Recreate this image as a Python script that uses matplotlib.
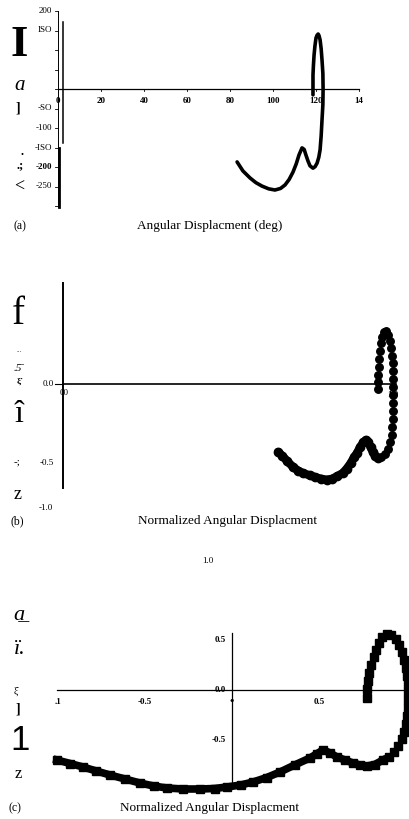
import matplotlib
matplotlib.use("Agg")
import matplotlib.pyplot as plt

# ---- panel (a): angular velocity vs angular displacement (deg)
ang_a = [83.3, 86, 89.3, 92, 94.9, 98, 100.9, 103.5, 105.6, 107.5, 109.3, 110.8,
         112.1, 113.5, 114.5, 115.3, 116.3, 117.2, 118.6, 119.6, 120.5, 121.3,
         121.9, 122.4, 122.8, 123.2, 123.3, 123.2, 122.8, 122.4, 121.9, 121.4,
         121.0, 120.5, 120.0, 119.5, 119.1, 118.8, 118.6, 118.6]
vel_a = [-187, -210, -228, -240, -249, -256, -259, -255, -246, -232, -213, -192,
         -169, -151, -155, -169, -185, -197, -203, -199, -190, -175,
         -156, -120, -79, -40, 0, 40, 74, 103, 126, 137,
         141, 138, 131, 110, 87, 60, 36, -15]
xticks_a = [0, 20, 40, 60, 80, 100, 120, 140]
xlabels_a = ["0", "20", "40", "60", "80", "100", "120", "14"]
yticks_a = [200, 150, -50, -100, -150, -200, -250]
ylabels_a = ["200", "ISO", "-SO", "-100", "-ISO", "-200", "-250"]

# ---- panel (b): normalized, dots
xb_lo = [0.652, 0.665, 0.68, 0.697, 0.712, 0.728, 0.748, 0.765, 0.782, 0.80, 0.815,
         0.83, 0.848, 0.86, 0.872, 0.883, 0.891, 0.90, 0.91, 0.918, 0.925, 0.932,
         0.939, 0.946, 0.955]
yb_lo = [-0.43, -0.455, -0.49, -0.525, -0.548, -0.565, -0.578, -0.59, -0.60, -0.606,
         -0.60, -0.585, -0.563, -0.535, -0.50, -0.46, -0.437, -0.40, -0.37, -0.354,
         -0.37, -0.40, -0.43, -0.455, -0.468]
xb_hi = [0.965, 0.975, 0.985, 0.992, 0.996, 0.998, 0.999, 1.0, 1.0, 1.0, 1.0, 1.0,
         1.0, 0.999, 0.997, 0.994, 0.99, 0.985, 0.979, 0.972, 0.967, 0.963, 0.96,
         0.958, 0.957, 0.956, 0.955, 0.955]
yb_hi = [-0.46, -0.44, -0.41, -0.37, -0.32, -0.27, -0.22, -0.17, -0.12, -0.07, -0.02,
         0.03, 0.08, 0.13, 0.18, 0.23, 0.27, 0.31, 0.335, 0.33, 0.30, 0.26, 0.21,
         0.16, 0.11, 0.06, 0.01, -0.03]
yticks_b = [0.0, -0.5]
ylabels_b = ["0.0", "-0.5"]

# ---- panel (c): normalized phase plane, squares
xc_lo = [-1.006, -0.93, -0.856, -0.78, -0.701, -0.615, -0.529, -0.45, -0.374, -0.28,
         -0.184, -0.10, -0.029, 0.05, 0.121, 0.20, 0.276, 0.36, 0.448, 0.49, 0.523,
         0.565, 0.603, 0.65, 0.695, 0.735, 0.776, 0.82, 0.868]
yc_lo = [-0.70, -0.735, -0.77, -0.81, -0.85, -0.89, -0.93, -0.96, -0.98, -0.99,
         -0.99, -0.985, -0.97, -0.95, -0.92, -0.875, -0.82, -0.75, -0.68, -0.635,
         -0.60, -0.63, -0.67, -0.70, -0.73, -0.75, -0.76, -0.745, -0.70]
xc_hi = [0.90, 0.93, 0.955, 0.975, 0.99, 1.0, 1.007, 1.01, 1.012, 1.012, 1.01, 1.007,
         1.0, 0.99, 0.978, 0.96, 0.94, 0.915, 0.89, 0.865, 0.845, 0.83, 0.815, 0.80,
         0.79, 0.782, 0.778, 0.776]
yc_hi = [-0.67, -0.62, -0.56, -0.49, -0.42, -0.34, -0.26, -0.18, -0.10, -0.02, 0.06,
         0.14, 0.22, 0.30, 0.38, 0.45, 0.51, 0.55, 0.56, 0.53, 0.47, 0.40, 0.33, 0.25,
         0.17, 0.09, 0.01, -0.08]
xticks_c = [-1.0, -0.5, 0.0, 0.5]
xlabels_c = [".1", "-0.5", "\u2022", "0.5"]
yticks_c = [0.5, 0.0, -0.5]
ylabels_c = ["0.5", "0.0", "-0.5"]

W, H = 410, 819
SERIF = ["Liberation Serif", "DejaVu Serif"]
plt.rcParams["font.family"] = SERIF

fig = plt.figure(figsize=(W / 100, H / 100), dpi=100)
fig.patch.set_facecolor("white")


def make_axes(xlim, px, ylim, py):
    # px/py: pixel positions of the xlim/ylim ends (py measured from top)
    ax = fig.add_axes([px[0] / W, 1 - py[0] / H,
                       (px[1] - px[0]) / W, (py[0] - py[1]) / H])
    ax.set_xlim(*xlim)
    ax.set_ylim(*ylim)
    ax.axis("off")
    return ax


def ft(x, y, s, **kw):
    kw.setdefault("ha", "center")
    kw.setdefault("va", "center")
    return fig.text(x / W, 1 - y / H, s, **kw)


# ================= (a)
ax = make_axes((0, 140), (58, 359), (-310, 210), (209.9, 7.1))
ax.plot([0, 140], [0, 0], color="black", lw=0.9, clip_on=False)
ax.plot([0, 0], [200, -302], color="black", lw=0.7, clip_on=False)
ax.plot([0.6, 0.6], [-150, -302], color="black", lw=2.0, clip_on=False)
ax.plot([2.3, 2.3], [172, -138], color="black", lw=1.1, clip_on=False)
for v in range(200, -301, -50):
    ax.plot([-1.2, 0], [v, v], color="black", lw=0.6, clip_on=False)
for t in xticks_a[1:]:
    ax.plot([t, t], [0, -5], color="black", lw=0.6, clip_on=False)
for t, s in zip(xticks_a, xlabels_a):
    ax.text(t, -31, s, ha="center", va="center", fontsize=6.5, fontweight="bold")
for t, s in zip(yticks_a, ylabels_a):
    ax.text(-2.8, t, s, ha="right", va="center", fontsize=6.5,
            fontweight="bold" if s == "-200" else "normal")
ax.plot(ang_a, vel_a, color="black", lw=2.6, solid_capstyle="round", clip_on=False)

ft(19, 45, "I", fontsize=32, fontweight="bold")
ft(20, 86, "a", fontsize=15, style="italic")
ft(18, 108, "]", fontsize=10, fontweight="bold")
ft(22, 152, ".", fontsize=9, fontweight="bold")
ft(20, 165, ".;", fontsize=9, fontweight="bold")
ft(19, 187, "<", fontsize=13)
ft(20, 226, "(a)", fontsize=8.5)
ft(210, 226, "Angular Displacment (deg)", fontsize=9.5)

# ================= (b)
ax = make_axes((0, 1.02), (63, 399.6), (-0.8, 0.7), (510.4, 273.4))
ax.plot([0, 1.01], [0, 0], color="black", lw=1.2, clip_on=False)
ax.plot([0, 0], [0.64, -0.66], color="black", lw=1.4, clip_on=False)
ax.plot([-0.025, 0], [0, 0], color="black", lw=0.8, clip_on=False)
for t, s in zip(yticks_b, ylabels_b):
    ax.text(-0.028, t, s, ha="right", va="center", fontsize=6.5)
ax.text(0.003, -0.055, "00", ha="center", va="center", fontsize=6.5)
ax.text(1.0, -0.07, "1.0", ha="center", va="center", fontsize=6.5,
        fontweight="bold", zorder=1)
ax.plot(xb_lo, yb_lo, color="black", lw=6.0, solid_capstyle="round",
        marker="o", ms=6.0, clip_on=False, zorder=3)
ax.plot(xb_hi, yb_hi, color="black", lw=0, marker="o", ms=5.4,
        clip_on=False, zorder=3)
ft(46, 508, "-1.0", fontsize=6.5)

ft(18, 315, "f", fontsize=28)
ft(19, 351, "...", fontsize=5)
ft(18, 369, ".5\u0304", fontsize=8, style="italic")
ft(20, 382, "\u03be\u02d9", fontsize=6.5, fontweight="bold")
ft(19, 414, "\u00ee", fontsize=23)
ft(17, 462, "-;", fontsize=8)
ft(18, 495, "z", fontsize=13)
ft(17, 521, "(b)", fontsize=8.5)
ft(228, 521, "Normalized Angular Displacment", fontsize=9.5)
ft(208, 561, "1.0", fontsize=6.5)

# ================= (c)
ax = make_axes((-1.02, 1.03), (54.5, 411.2), (-1.05, 0.65), (795, 625))
ax.plot([-1.005, 1.03], [0, 0], color="black", lw=0.9, clip_on=False)
ax.plot([0, 0], [0.57, -0.93], color="black", lw=0.9, clip_on=False)
for t, s in zip(xticks_c, xlabels_c):
    ax.text(t, -0.12, s, ha="center", va="center",
            fontsize=9 if s == "\u2022" else 6.5, fontweight="bold")
for t, s in zip(yticks_c, ylabels_c):
    ax.text(-0.035, t, s, ha="right", va="center", fontsize=6.5, fontweight="bold")
ax.plot(xc_lo, yc_lo, color="black", lw=5.5, marker="s", ms=5.5,
        clip_on=False, zorder=3)
ax.plot(xc_hi, yc_hi, color="black", lw=0, marker="s", ms=5.5,
        clip_on=False, zorder=3)

ft(19, 615, "a\u0332", fontsize=16, style="italic")
ft(20, 650, "\u00ef.", fontsize=16, style="italic")
ft(16, 691, "\u03be\u0304", fontsize=7)
ft(18, 709, "]", fontsize=10, fontweight="bold")
ft(20, 741, "1", fontsize=25, family=["Liberation Sans", "DejaVu Sans"])
ft(18, 774, "z", fontsize=12)
ft(15, 808, "(c)", fontsize=8.5)
ft(210, 808, "Normalized Angular Displacment", fontsize=9.5)

fig.savefig("out.png", dpi=100, facecolor="white")
